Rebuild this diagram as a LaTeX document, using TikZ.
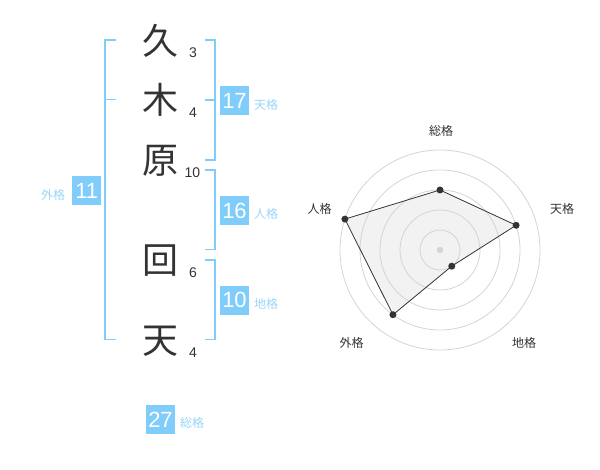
\documentclass[tikz,border=0pt]{standalone}
\usepackage{fontspec}
\setmainfont{Liberation Sans}
\newfontfamily\jp{Noto Sans CJK JP}
\definecolor{skyblue}{HTML}{80CCFA}
\definecolor{palelabel}{HTML}{99D5FA}
\definecolor{inkgray}{HTML}{333333}
\definecolor{ringgray}{HTML}{D4D4D4}
\definecolor{areagray}{HTML}{F2F2F2}

\begin{document}
\begin{tikzpicture}[x=1pt,y=-1pt,
	kanji/.style={text=inkgray,font=\jp\fontsize{36}{36}\selectfont,inner sep=0pt},
	strokes/.style={text=inkgray,font=\fontsize{14}{14}\selectfont,inner sep=0pt},
	numbox/.style={fill=skyblue,text=white,minimum size=29pt,inner sep=0pt,font=\fontsize{22}{22}\selectfont},
	kaku/.style={text=palelabel,font=\jp\fontsize{12}{12}\selectfont,inner sep=0pt},
	bracket/.style={draw=skyblue,line width=1.5pt},
	axis/.style={text=inkgray,font=\jp\fontsize{12}{12}\selectfont,inner sep=0pt},
	dot/.style={circle,fill=inkgray,inner sep=0pt,minimum size=7pt}]
		\useasboundingbox (0,0) rectangle (600,470);
		% name column
		\node[kanji] (k1) at (160,41) {久};
		\node[kanji] (k2) at (160,100) {木};
		\node[kanji] (k3) at (160,160.5) {原};
		\node[kanji] (k4) at (160,261) {回};
		\node[kanji] (k5) at (160,341) {天};
		\node[strokes] (s1) at (193,53) {3};
		\node[strokes] (s2) at (193,113) {4};
		\node[strokes] (s3) at (192.5,173) {10};
		\node[strokes] (s4) at (193,272.5) {6};
		\node[strokes] (s5) at (193,353) {4};
		% brackets
		\draw[bracket] (116,40) -- (105,40) -- (105,339.5) -- (116,339.5);
		\draw[bracket] (105,99.5) -- (116,99.5);
		\draw[bracket] (205,40) -- (215,40) -- (215,160) -- (205,160);
		\draw[bracket] (205,100) -- (215,100);
		\draw[bracket] (205,170) -- (215,170) -- (215,249.5) -- (205,249.5);
		\draw[bracket] (205,260) -- (215,260) -- (215,339.5) -- (205,339.5);
		% totals
		\node[numbox] (ten) at (234.5,100.5) {17};
		\node[kaku] (ten-l) at (266,104.5) {天格};
		\node[numbox] (jin) at (234.5,210.5) {16};
		\node[kaku] (jin-l) at (266,214) {人格};
		\node[numbox] (chi) at (234.5,300.3) {10};
		\node[kaku] (chi-l) at (266,304) {地格};
		\node[numbox] (gai) at (86.7,190.5) {11};
		\node[kaku] (gai-l) at (53,194.5) {外格};
		\node[numbox] (sou) at (160.5,419.5) {27};
		\node[kaku] (sou-l) at (192,423) {総格};
		% radar chart
		\begin{scope}[shift={(440,250)},yscale=-1]
			\coordinate (c) at (0,0);
			\coordinate (vs) at (90:60);
			\coordinate (vt) at (18:80);
			\coordinate (vc) at (-54:20);
			\coordinate (vg) at (-126:80);
			\coordinate (vj) at (162:100);
			\fill[areagray] (vs) -- (vt) -- (vc) -- (vg) -- (vj) -- cycle;
			\foreach \r in {20,40,...,100}
				\draw[ringgray,line width=0.8pt] (c) circle (\r);
			\draw[inkgray,line width=0.8pt] (vs) -- (vt) -- (vc) -- (vg) -- (vj) -- cycle;
			\foreach \v in {vs,vt,vc,vg,vj}
				\node[dot] (d-\v) at (\v) {};
			\node[circle,fill=ringgray,inner sep=0pt,minimum size=6.5pt] (hub) at (c) {};
		\end{scope}
		\node[axis] (a-sou) at (441,131) {総格};
		\node[axis] (a-ten) at (562,209) {天格};
		\node[axis] (a-chi) at (524,342.5) {地格};
		\node[axis] (a-gai) at (351.5,342.5) {外格};
		\node[axis] (a-jin) at (319.5,208.5) {人格};
	\end{tikzpicture}
\end{document}
